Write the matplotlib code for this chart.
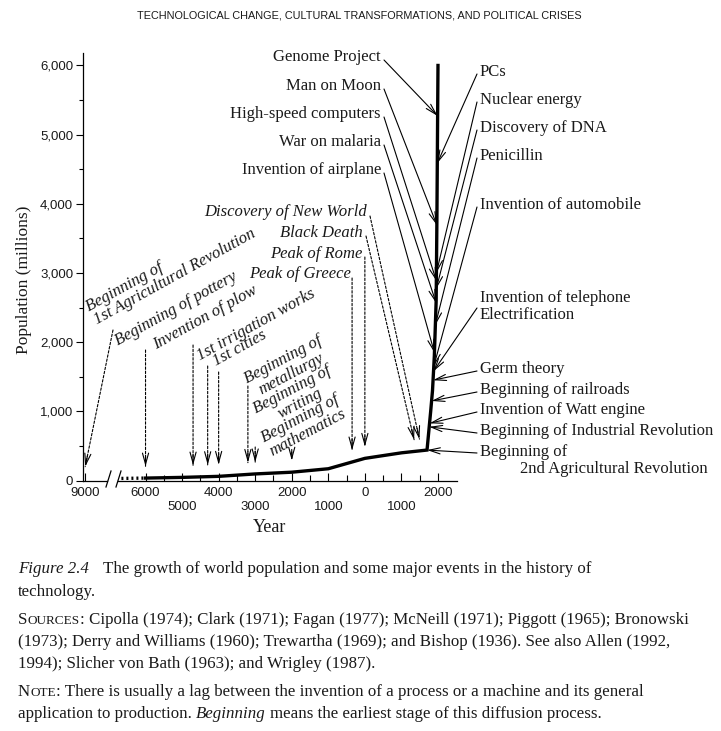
import numpy as np
import matplotlib
matplotlib.use('Agg')
import matplotlib.pyplot as plt
from matplotlib import font_manager
from matplotlib.lines import Line2D

W, H = 721, 731

# world population curve (year, millions); negative years are BC
pop_years = [-7200, -6000, -5000, -4000, -3000, -2000, -1000, 0, 1000,
             1700, 1750, 1800, 1850, 1900, 1950, 1970, 1990, 2000]
pop_millions = [30, 35, 45, 60, 95, 120, 170, 320, 400,
                440, 720, 1000, 1300, 1800, 2600, 3750, 5270, 6000]

# early events (italic, dashed arrows)
early_labels = ['Beginning of\n1st Agricultural Revolution', 'Beginning of pottery',
                'Invention of plow', '1st irrigation works', '1st cities',
                'Beginning of\nmetallurgy', 'Beginning of\nwriting',
                'Beginning of\nmathematics', 'Peak of Greece', 'Peak of Rome',
                'Black Death', 'Discovery of New World']
early_years = [-9000, -6000, -4700, -4300, -4000, -3200, -3000, -2000,
               -350, 0, 1347, 1492]

# modern events, labels left of the curve
left_labels = ['Genome Project', 'Man on Moon', 'High-speed computers',
               'War on malaria', 'Invention of airplane']
left_years = [1990, 1969, 1955, 1948, 1903]

# modern events, labels right of the curve
right_labels = ['PCs', 'Nuclear energy', 'Discovery of DNA', 'Penicillin',
                'Invention of automobile', 'Invention of telephone\nElectrification',
                'Germ theory', 'Beginning of railroads', 'Invention of Watt engine',
                'Beginning of Industrial Revolution',
                'Beginning of\n2nd Agricultural Revolution']
right_years = [1981, 1957, 1953, 1928, 1885, 1878, 1865, 1825, 1769, 1760, 1700]

y_ticks = [0, 1000, 2000, 3000, 4000, 5000, 6000]
x_major = [-9000, -6000, -5000, -4000, -3000, -2000, -1000, 0, 1000, 2000]
x_labels = ['9000', '6000', '\n5000', '4000', '\n3000', '2000', '\n1000', '0',
            '\n1000', '2000']
x_minor = [-5500, -4500, -3500, -2500, -1500, -500, 500, 1500]

# ---- layout (pixels from top-left of the page) ----
early_text = [((97, 325), 29, 'left', 'baseline'),
              ((118, 346), 29, 'left', 'baseline'),
              ((156, 350), 29, 'left', 'baseline'),
              ((200, 361), 29, 'left', 'baseline'),
              ((216, 366), 29, 'left', 'baseline'),
              ((287, 367), 28, 'center', 'center'),
              ((296, 397), 28, 'center', 'center'),
              ((304, 426), 28, 'center', 'center'),
              ((351, 274), 0, 'right', 'center'),
              ((362, 254), 0, 'right', 'center'),
              ((363, 233), 0, 'right', 'center'),
              ((367, 212), 0, 'right', 'center')]
early_start = [(113, 330), (None, 350), (None, 345), (None, 366), (None, 372),
               (None, 386), (None, 447), (None, 452), (None, 278), (None, 257),
               (366, 236), (370, 216)]
left_text_y = [57, 86, 114, 142, 170]
right_text_y = [72, 100, 128, 156, 205, 298, 369, 390, 410, 431, 452]
right_start_y = [74, 102, 130, 158, 207, 308, 371, 392, 412, 433, 453]
right_indent = [0, 0, 0, 0, 0, 0, 0, 0, 0, 0, 40]


def fx(x):
    return x / W


def fy(y):
    return 1 - y / H


def fwd(x):
    x = np.asarray(x, dtype=float)
    return np.where(x < -6000, -6000 + (x + 6000) * 0.55, x)


def inv(x):
    x = np.asarray(x, dtype=float)
    return np.where(x < -6000, -6000 + (x + 6000) / 0.55, x)


names = {f.name for f in font_manager.fontManager.ttflist}
head_font = 'Liberation Sans Narrow' if 'Liberation Sans Narrow' in names else 'Liberation Sans'
head_size = 9.5 if head_font == 'Liberation Sans Narrow' else 7.8

plt.rcParams['font.family'] = 'Liberation Serif'
ink = '#1a1a1a'

fig = plt.figure(figsize=(W / 100, H / 100), dpi=100)
fig.patch.set_facecolor('white')
ax = fig.add_axes([83 / W, 1 - 480.5 / H, (457 - 83) / W, (480.5 - 53) / H])
ax.set_xscale('function', functions=(fwd, inv))
ax.set_xlim(-9110, 2520)
ax.set_ylim(0, 6180)
ax.patch.set_alpha(0)

for s in ['top', 'right', 'bottom']:
    ax.spines[s].set_visible(False)
ax.spines['left'].set_linewidth(0.9)

# broken x axis line
ax.plot([-9110, -7900], [0, 0], color='k', lw=0.9, clip_on=False)
ax.plot([-7360, 2520], [0, 0], color='k', lw=0.9, clip_on=False)
for x0 in (106, 116):
    fig.add_artist(Line2D([fx(x0), fx(x0 + 5)], [fy(487), fy(471)], color='k', lw=0.9))

ax.set_xticks(x_major)
ax.set_xticklabels(x_labels)
ax.set_xticks(x_minor, minor=True)
ax.tick_params(axis='x', which='major', direction='in', length=6, width=0.8, pad=5,
               labelsize=9.5)
ax.tick_params(axis='x', which='minor', direction='in', length=4, width=0.8)
ax.set_yticks(y_ticks)
ax.set_yticklabels(['{:,}'.format(v) for v in y_ticks])
ax.set_yticks([v + 500 for v in y_ticks[:-1]], minor=True)
ax.tick_params(axis='y', which='major', direction='out', length=5, width=0.8, pad=2,
               labelsize=9.5)
ax.tick_params(axis='y', which='minor', direction='out', length=3, width=0.8)
for lab in ax.get_xticklabels() + ax.get_yticklabels():
    lab.set_family('Liberation Sans')
    lab.set_color(ink)

# population curve
py = np.array(pop_years)
pm = np.array(pop_millions)
ax.plot(py[py <= -6000], pm[py <= -6000], color='k', lw=2.4, ls=(0, (0.6, 0.9)),
        clip_on=False)
ax.plot(py[py >= -6000], pm[py >= -6000], color='k', lw=2.4, clip_on=False,
        solid_joinstyle='miter')

fig.text(fx(24), fy(280), 'Population (millions)', rotation=90, ha='center',
         va='center', fontsize=12.5, color=ink)
fig.text(fx(270), fy(527), 'Year', ha='center', va='center', fontsize=13, color=ink)

head = '->,head_length=0.8,head_width=0.22'

# early events: dashed lines with open heads
for lab, yr, (pos, rot, ha, va), (sx, sy) in zip(early_labels, early_years,
                                                   early_text, early_start):
    fig.text(fx(pos[0]), fy(pos[1]), lab, rotation=rot, rotation_mode='anchor',
             ha=ha, va=va, style='italic', fontsize=12, color=ink,
             multialignment='center' if ha == 'center' else 'left', linespacing=1.0)
    tip = (yr, np.interp(yr, pop_years, pop_millions) + 170)
    td = ax.transData.transform(tip)
    if sx is None:
        sx = td[0]
    st = np.array([sx, H - sy])
    ax.annotate('', xy=tip, xytext=st, textcoords='figure pixels',
                arrowprops=dict(arrowstyle='-', lw=0.8, ls=(0, (2.2, 1.6)), color='k',
                                shrinkA=0, shrinkB=0))
    u = (td - st) / np.hypot(*(td - st))
    ax.annotate('', xy=tip, xytext=td - u * 11, textcoords='figure pixels',
                arrowprops=dict(arrowstyle=head, lw=0.8, color='k', shrinkA=0,
                                shrinkB=0, mutation_scale=10))

# modern events, labels on the left
for lab, yr, ty in zip(left_labels, left_years, left_text_y):
    fig.text(fx(381), fy(ty), lab, ha='right', va='center', fontsize=12, color=ink)
    tip = (yr, np.interp(yr, pop_years, pop_millions))
    ax.annotate('', xy=tip, xytext=(384, H - ty - 3), textcoords='figure pixels',
                arrowprops=dict(arrowstyle=head, lw=0.8, color='k', shrinkA=0,
                                shrinkB=0, mutation_scale=10))

# modern events, labels on the right
for lab, yr, ty, sy, ind in zip(right_labels, right_years, right_text_y,
                                right_start_y, right_indent):
    for i, line in enumerate(lab.split('\n')):
        fig.text(fx(480 + ind * i), fy(ty + 17 * i), line, ha='left', va='center',
                 fontsize=12, color=ink)
    tip = (yr, np.interp(yr, pop_years, pop_millions))
    ax.annotate('', xy=tip, xytext=(477, H - sy), textcoords='figure pixels',
                arrowprops=dict(arrowstyle=head, lw=0.8, color='k', shrinkA=0,
                                shrinkB=0, mutation_scale=10))

# page header
fig.text(fx(359), fy(15), 'TECHNOLOGICAL CHANGE, CULTURAL TRANSFORMATIONS, AND POLITICAL CRISES',
         ha='center', va='center', family=head_font, fontsize=head_size, color=ink)

# caption
renderer = fig.canvas.get_renderer()
cap = 12.2
rom = dict(fontsize=cap)
ita = dict(fontsize=cap, style='italic')
small = dict(fontsize=cap * 0.78)


def draw_runs(x, y, runs):
    for txt, kw, gap in runs:
        x += gap
        t = fig.text(fx(x), fy(y), txt, ha='left', va='baseline', color=ink, **kw)
        x = t.get_window_extent(renderer=renderer).x1


draw_runs(18, 573, [('Figure 2.4', ita, 0),
                    ('The growth of world population and some major events in the history of', rom, 14)])
draw_runs(18, 596, [('technology.', rom, 0)])
draw_runs(18, 624, [('S', rom, 0), ('OURCES', small, 0.5),
                    (': Cipolla (1974); Clark (1971); Fagan (1977); McNeill (1971); Piggott (1965); Bronowski', rom, 0)])
draw_runs(18, 646, [('(1973); Derry and Williams (1960); Trewartha (1969); and Bishop (1936). See also Allen (1992,', rom, 0)])
draw_runs(18, 668, [('1994); Slicher von Bath (1963); and Wrigley (1987).', rom, 0)])
draw_runs(18, 696, [('N', rom, 0), ('OTE', small, 0.5),
                    (': There is usually a lag between the invention of a process or a machine and its general', rom, 0)])
draw_runs(18, 718, [('application to production.', rom, 0), ('Beginning', ita, 4),
                    ('means the earliest stage of this diffusion process.', rom, 4)])

fig.savefig('out.png', dpi=100, facecolor='white')
